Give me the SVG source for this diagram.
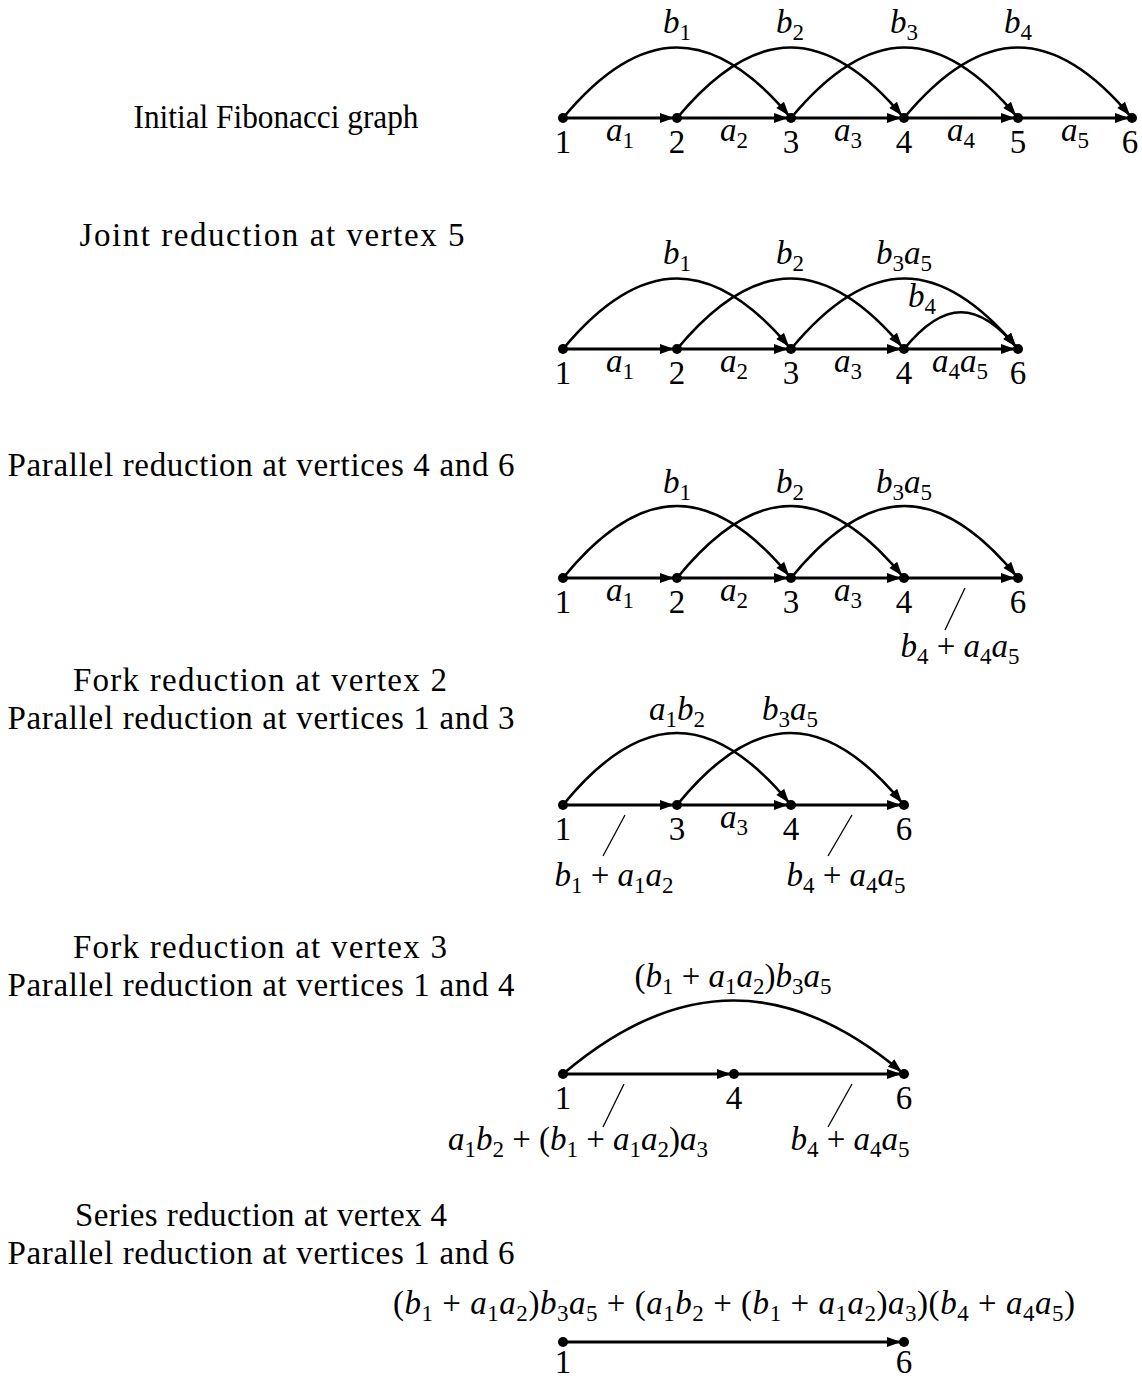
<svg xmlns="http://www.w3.org/2000/svg" width="1142" height="1379" viewBox="0 0 1142 1379">
<style>
.t{font-family:"Liberation Serif",serif;font-size:33px;fill:#000}
.m{font-style:italic}
.s{font-size:23px;font-style:normal}
.e{fill:none;stroke:#000;stroke-width:3;marker-end:url(#ah)}
.c{fill:none;stroke:#000;stroke-width:2.6;marker-end:url(#ah)}
.sl{stroke:#000;stroke-width:1.3}
.n{fill:#000}
</style>
<defs>
<marker id="ah" markerUnits="userSpaceOnUse" markerWidth="20" markerHeight="12" refX="17" refY="5" orient="auto" overflow="visible">
<path d="M0,0 L14,5 L0,10 Z" fill="#000"/>
</marker>
</defs>
<rect width="1142" height="1379" fill="#fff"/>

<g id="titles" class="t" text-anchor="middle">
<text x="276" y="128" textLength="285" lengthAdjust="spacingAndGlyphs">Initial Fibonacci graph</text>
<text x="272" y="246" textLength="385">Joint reduction at vertex 5</text>
<text x="261" y="476" textLength="507">Parallel reduction at vertices 4 and 6</text>
<text x="260" y="691" textLength="374">Fork reduction at vertex 2</text>
<text x="261" y="729" textLength="507">Parallel reduction at vertices 1 and 3</text>
<text x="260" y="958" textLength="374">Fork reduction at vertex 3</text>
<text x="261" y="996" textLength="507">Parallel reduction at vertices 1 and 4</text>
<text x="261" y="1226" textLength="372">Series reduction at vertex 4</text>
<text x="261" y="1264" textLength="507">Parallel reduction at vertices 1 and 6</text>
</g>

<g id="connectors">
<!-- graph 1 -->
<line class="e" x1="563" y1="118" x2="677" y2="118"/>
<line class="e" x1="677" y1="118" x2="791" y2="118"/>
<line class="e" x1="791" y1="118" x2="904" y2="118"/>
<line class="e" x1="904" y1="118" x2="1018" y2="118"/>
<line class="e" x1="1018" y1="118" x2="1132" y2="118"/>
<path class="c" d="M563,118 C641,24 713,24 791,118"/>
<path class="c" d="M677,118 C755,24 826,24 904,118"/>
<path class="c" d="M791,118 C869,24 940,24 1018,118"/>
<path class="c" d="M904,118 C982,24 1054,24 1132,118"/>
<!-- graph 2 -->
<line class="e" x1="563" y1="349" x2="677" y2="349"/>
<line class="e" x1="677" y1="349" x2="791" y2="349"/>
<line class="e" x1="791" y1="349" x2="904" y2="349"/>
<line class="e" x1="904" y1="349" x2="1018" y2="349"/>
<path class="c" d="M563,349 C641,255 713,255 791,349"/>
<path class="c" d="M677,349 C755,255 826,255 904,349"/>
<path class="c" d="M791,349 C869,255 940,255 1018,349"/>
<path class="c" d="M904,349 C944,300 978,300 1018,349"/>
<!-- graph 3 -->
<line class="e" x1="563" y1="578" x2="677" y2="578"/>
<line class="e" x1="677" y1="578" x2="791" y2="578"/>
<line class="e" x1="791" y1="578" x2="904" y2="578"/>
<line class="e" x1="904" y1="578" x2="1018" y2="578"/>
<path class="c" d="M563,578 C641,482 713,482 791,578"/>
<path class="c" d="M677,578 C755,482 826,482 904,578"/>
<path class="c" d="M791,578 C869,482 940,482 1018,578"/>
<line class="sl" x1="965" y1="588" x2="945" y2="630"/>
<!-- graph 4 -->
<line class="e" x1="563" y1="805" x2="677" y2="805"/>
<line class="e" x1="677" y1="805" x2="791" y2="805"/>
<line class="e" x1="791" y1="805" x2="904" y2="805"/>
<path class="c" d="M563,805 C641,709 713,709 791,805"/>
<path class="c" d="M677,805 C755,709 826,709 904,805"/>
<line class="sl" x1="625" y1="815" x2="603" y2="856"/>
<line class="sl" x1="852" y1="815" x2="828" y2="856"/>
<!-- graph 5 -->
<line class="e" x1="563" y1="1074" x2="734" y2="1074"/>
<line class="e" x1="734" y1="1074" x2="904" y2="1074"/>
<path class="c" d="M563,1074 C678,976 789,976 904,1074"/>
<line class="sl" x1="624" y1="1084" x2="603" y2="1127"/>
<line class="sl" x1="852" y1="1084" x2="828" y2="1127"/>
<!-- graph 6 -->
<line class="e" x1="563" y1="1342" x2="904" y2="1342"/>
</g>

<g id="edge-labels" class="t" text-anchor="middle">
<!-- graph 1 -->
<text x="620" y="141"><tspan class="m">a</tspan><tspan class="s" dy="7">1</tspan></text>
<text x="734" y="141"><tspan class="m">a</tspan><tspan class="s" dy="7">2</tspan></text>
<text x="848" y="141"><tspan class="m">a</tspan><tspan class="s" dy="7">3</tspan></text>
<text x="961" y="141"><tspan class="m">a</tspan><tspan class="s" dy="7">4</tspan></text>
<text x="1075" y="141"><tspan class="m">a</tspan><tspan class="s" dy="7">5</tspan></text>
<text x="677" y="33"><tspan class="m">b</tspan><tspan class="s" dy="7">1</tspan></text>
<text x="790" y="33"><tspan class="m">b</tspan><tspan class="s" dy="7">2</tspan></text>
<text x="904" y="33"><tspan class="m">b</tspan><tspan class="s" dy="7">3</tspan></text>
<text x="1018" y="33"><tspan class="m">b</tspan><tspan class="s" dy="7">4</tspan></text>
<!-- graph 2 -->
<text x="620" y="372"><tspan class="m">a</tspan><tspan class="s" dy="7">1</tspan></text>
<text x="734" y="372"><tspan class="m">a</tspan><tspan class="s" dy="7">2</tspan></text>
<text x="848" y="372"><tspan class="m">a</tspan><tspan class="s" dy="7">3</tspan></text>
<text x="960" y="372"><tspan class="m">a</tspan><tspan class="s" dy="7">4</tspan><tspan class="m" dy="-7">a</tspan><tspan class="s" dy="7">5</tspan></text>
<text x="677" y="264"><tspan class="m">b</tspan><tspan class="s" dy="7">1</tspan></text>
<text x="790" y="264"><tspan class="m">b</tspan><tspan class="s" dy="7">2</tspan></text>
<text x="904" y="264"><tspan class="m">b</tspan><tspan class="s" dy="7">3</tspan><tspan class="m" dy="-7">a</tspan><tspan class="s" dy="7">5</tspan></text>
<text x="922" y="307"><tspan class="m">b</tspan><tspan class="s" dy="7">4</tspan></text>
<!-- graph 3 -->
<text x="620" y="601"><tspan class="m">a</tspan><tspan class="s" dy="7">1</tspan></text>
<text x="734" y="601"><tspan class="m">a</tspan><tspan class="s" dy="7">2</tspan></text>
<text x="848" y="601"><tspan class="m">a</tspan><tspan class="s" dy="7">3</tspan></text>
<text x="677" y="493"><tspan class="m">b</tspan><tspan class="s" dy="7">1</tspan></text>
<text x="790" y="493"><tspan class="m">b</tspan><tspan class="s" dy="7">2</tspan></text>
<text x="904" y="493"><tspan class="m">b</tspan><tspan class="s" dy="7">3</tspan><tspan class="m" dy="-7">a</tspan><tspan class="s" dy="7">5</tspan></text>
<text x="960" y="657"><tspan class="m">b</tspan><tspan class="s" dy="7">4</tspan><tspan dy="-7"> + </tspan><tspan class="m">a</tspan><tspan class="s" dy="7">4</tspan><tspan class="m" dy="-7">a</tspan><tspan class="s" dy="7">5</tspan></text>
<!-- graph 4 -->
<text x="734" y="828"><tspan class="m">a</tspan><tspan class="s" dy="7">3</tspan></text>
<text x="677" y="720"><tspan class="m">a</tspan><tspan class="s" dy="7">1</tspan><tspan class="m" dy="-7">b</tspan><tspan class="s" dy="7">2</tspan></text>
<text x="790" y="720"><tspan class="m">b</tspan><tspan class="s" dy="7">3</tspan><tspan class="m" dy="-7">a</tspan><tspan class="s" dy="7">5</tspan></text>
<text x="614" y="886"><tspan class="m">b</tspan><tspan class="s" dy="7">1</tspan><tspan dy="-7"> + </tspan><tspan class="m">a</tspan><tspan class="s" dy="7">1</tspan><tspan class="m" dy="-7">a</tspan><tspan class="s" dy="7">2</tspan></text>
<text x="846" y="886"><tspan class="m">b</tspan><tspan class="s" dy="7">4</tspan><tspan dy="-7"> + </tspan><tspan class="m">a</tspan><tspan class="s" dy="7">4</tspan><tspan class="m" dy="-7">a</tspan><tspan class="s" dy="7">5</tspan></text>
<!-- graph 5 -->
<text x="733" y="987">(<tspan class="m">b</tspan><tspan class="s" dy="7">1</tspan><tspan dy="-7"> + </tspan><tspan class="m">a</tspan><tspan class="s" dy="7">1</tspan><tspan class="m" dy="-7">a</tspan><tspan class="s" dy="7">2</tspan><tspan dy="-7">)</tspan><tspan class="m">b</tspan><tspan class="s" dy="7">3</tspan><tspan class="m" dy="-7">a</tspan><tspan class="s" dy="7">5</tspan></text>
<text x="578" y="1150"><tspan class="m">a</tspan><tspan class="s" dy="7">1</tspan><tspan class="m" dy="-7">b</tspan><tspan class="s" dy="7">2</tspan><tspan dy="-7"> + (</tspan><tspan class="m">b</tspan><tspan class="s" dy="7">1</tspan><tspan dy="-7"> + </tspan><tspan class="m">a</tspan><tspan class="s" dy="7">1</tspan><tspan class="m" dy="-7">a</tspan><tspan class="s" dy="7">2</tspan><tspan dy="-7">)</tspan><tspan class="m">a</tspan><tspan class="s" dy="7">3</tspan></text>
<text x="850" y="1150"><tspan class="m">b</tspan><tspan class="s" dy="7">4</tspan><tspan dy="-7"> + </tspan><tspan class="m">a</tspan><tspan class="s" dy="7">4</tspan><tspan class="m" dy="-7">a</tspan><tspan class="s" dy="7">5</tspan></text>
<!-- graph 6 -->
<text x="734" y="1314" textLength="682">(<tspan class="m">b</tspan><tspan class="s" dy="7">1</tspan><tspan dy="-7"> + </tspan><tspan class="m">a</tspan><tspan class="s" dy="7">1</tspan><tspan class="m" dy="-7">a</tspan><tspan class="s" dy="7">2</tspan><tspan dy="-7">)</tspan><tspan class="m">b</tspan><tspan class="s" dy="7">3</tspan><tspan class="m" dy="-7">a</tspan><tspan class="s" dy="7">5</tspan><tspan dy="-7"> + (</tspan><tspan class="m">a</tspan><tspan class="s" dy="7">1</tspan><tspan class="m" dy="-7">b</tspan><tspan class="s" dy="7">2</tspan><tspan dy="-7"> + (</tspan><tspan class="m">b</tspan><tspan class="s" dy="7">1</tspan><tspan dy="-7"> + </tspan><tspan class="m">a</tspan><tspan class="s" dy="7">1</tspan><tspan class="m" dy="-7">a</tspan><tspan class="s" dy="7">2</tspan><tspan dy="-7">)</tspan><tspan class="m">a</tspan><tspan class="s" dy="7">3</tspan><tspan dy="-7">)(</tspan><tspan class="m">b</tspan><tspan class="s" dy="7">4</tspan><tspan dy="-7"> + </tspan><tspan class="m">a</tspan><tspan class="s" dy="7">4</tspan><tspan class="m" dy="-7">a</tspan><tspan class="s" dy="7">5</tspan><tspan dy="-7">)</tspan></text>
</g>

<g id="graph1" class="t" text-anchor="middle">
<g id="g1-n1"><circle class="n" cx="563" cy="118" r="5"/><text x="563" y="153">1</text></g>
<g id="g1-n2"><circle class="n" cx="677" cy="118" r="5"/><text x="677" y="153">2</text></g>
<g id="g1-n3"><circle class="n" cx="791" cy="118" r="5"/><text x="791" y="153">3</text></g>
<g id="g1-n4"><circle class="n" cx="904" cy="118" r="5"/><text x="904" y="153">4</text></g>
<g id="g1-n5"><circle class="n" cx="1018" cy="118" r="5"/><text x="1018" y="153">5</text></g>
<g id="g1-n6"><circle class="n" cx="1132" cy="118" r="5"/><text x="1130" y="153">6</text></g>
</g>
<g id="graph2" class="t" text-anchor="middle">
<g id="g2-n1"><circle class="n" cx="563" cy="349" r="5"/><text x="563" y="384">1</text></g>
<g id="g2-n2"><circle class="n" cx="677" cy="349" r="5"/><text x="677" y="384">2</text></g>
<g id="g2-n3"><circle class="n" cx="791" cy="349" r="5"/><text x="791" y="384">3</text></g>
<g id="g2-n4"><circle class="n" cx="904" cy="349" r="5"/><text x="904" y="384">4</text></g>
<g id="g2-n6"><circle class="n" cx="1018" cy="349" r="5"/><text x="1018" y="384">6</text></g>
</g>
<g id="graph3" class="t" text-anchor="middle">
<g id="g3-n1"><circle class="n" cx="563" cy="578" r="5"/><text x="563" y="613">1</text></g>
<g id="g3-n2"><circle class="n" cx="677" cy="578" r="5"/><text x="677" y="613">2</text></g>
<g id="g3-n3"><circle class="n" cx="791" cy="578" r="5"/><text x="791" y="613">3</text></g>
<g id="g3-n4"><circle class="n" cx="904" cy="578" r="5"/><text x="904" y="613">4</text></g>
<g id="g3-n6"><circle class="n" cx="1018" cy="578" r="5"/><text x="1018" y="613">6</text></g>
</g>
<g id="graph4" class="t" text-anchor="middle">
<g id="g4-n1"><circle class="n" cx="563" cy="805" r="5"/><text x="563" y="840">1</text></g>
<g id="g4-n3"><circle class="n" cx="677" cy="805" r="5"/><text x="677" y="840">3</text></g>
<g id="g4-n4"><circle class="n" cx="791" cy="805" r="5"/><text x="791" y="840">4</text></g>
<g id="g4-n6"><circle class="n" cx="904" cy="805" r="5"/><text x="904" y="840">6</text></g>
</g>
<g id="graph5" class="t" text-anchor="middle">
<g id="g5-n1"><circle class="n" cx="563" cy="1074" r="5"/><text x="563" y="1109">1</text></g>
<g id="g5-n4"><circle class="n" cx="734" cy="1074" r="5"/><text x="734" y="1109">4</text></g>
<g id="g5-n6"><circle class="n" cx="904" cy="1074" r="5"/><text x="904" y="1109">6</text></g>
</g>
<g id="graph6" class="t" text-anchor="middle">
<g id="g6-n1"><circle class="n" cx="563" cy="1342" r="5"/><text x="563" y="1373">1</text></g>
<g id="g6-n6"><circle class="n" cx="904" cy="1342" r="5"/><text x="904" y="1373">6</text></g>
</g>
</svg>
